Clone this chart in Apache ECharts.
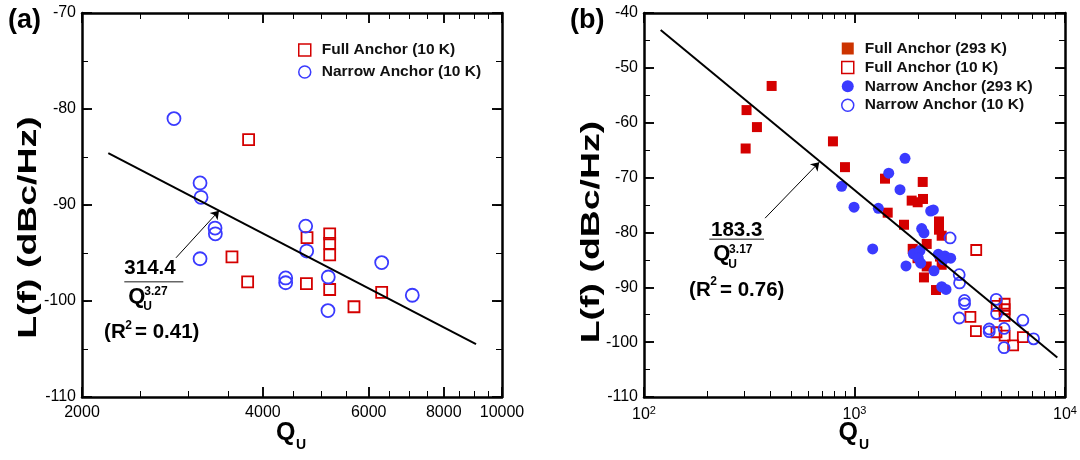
<!DOCTYPE html>
<html><head><meta charset="utf-8">
<script src="https://cdn.jsdelivr.net/npm/echarts@6/dist/echarts.min.js"></script>
<style>html,body{margin:0;padding:0;background:#fff}#c{width:1080px;height:460px}</style>
</head><body><div id="c"></div>
<script>
// ---------- data ----------
const Q_FULL_10K   = [3787, 3553, 3773, 4737, 4726, 5167, 5167, 5167, 5167, 5671, 6306];
const L_FULL_10K   = [-83.2, -95.4, -98.0, -93.4, -98.2, -93.0, -94.0, -95.2, -98.8, -100.6, -99.1];
const Q_NARROW_10K = [2845, 3144, 3156, 3330, 3334, 3144, 4365, 4365, 4713, 4731, 5139, 5133, 6306, 7091];
const L_NARROW_10K = [-81.0, -87.7, -89.2, -92.4, -93.0, -95.6, -97.6, -98.1, -92.2, -94.8, -97.5, -101.0, -96.0, -99.4];

const Q_FULL_293K  = [307, 404, 344, 304, 790, 901, 1396, 2109, 1869, 1996, 2115, 1438, 1719, 2520, 2520, 2595, 2203, 1890, 1992, 2203, 2138, 2438, 2595, 2548];
const L_FULL_293K  = [-57.7, -53.3, -60.8, -64.7, -63.4, -68.1, -70.2, -70.8, -74.2, -74.5, -73.9, -76.4, -78.6, -78.0, -79.5, -80.6, -82.1, -83.0, -84.7, -86.2, -88.2, -90.5, -85.9, -84.4];
const Q_NARROW_293K = [1738, 1454, 869, 1645, 995, 1298, 2301, 2369, 2085, 2138, 1220, 1903, 2047, 2010, 2063, 1757, 2386, 2595, 2721, 2500, 2690, 2864, 2642];
const L_NARROW_293K = [-66.5, -69.2, -71.6, -72.2, -75.4, -75.6, -76.1, -75.9, -79.3, -80.1, -83.0, -83.9, -83.3, -84.7, -85.6, -86.1, -87.0, -89.9, -90.4, -84.0, -84.3, -84.7, -85.0];

const FIT_A_Q = [2212, 9053];  const FIT_A_L = [-84.6, -104.5];
const FIT_B_Q = [120, 9192];   const FIT_B_L = [-43.1, -102.8];
const ARROW_A = [[2867, -95.5], [3381, -90.6]];
const ARROW_B = [[376, -77.4], [680, -67.2]];

const A_X_MAJOR = [2000, 4000, 6000, 8000, 10000];
const A_X_MINOR = [2500, 3000, 3500, 4500, 5000, 5500, 6500, 7000, 7500, 8500, 9000, 9500];
const B_X_MAJOR = [100, 1000, 10000];
const B_X_MINOR = [200, 300, 400, 500, 600, 700, 800, 900, 2000, 3000, 4000, 5000, 6000, 7000, 8000, 9000];
const A_Y_RANGE = [-110, -70];
const B_Y_RANGE = [-110, -40];

// ---------- styling ----------
const FONT = '"Liberation Sans", Arial, sans-serif';
const RED = '#d40000', BLUE = '#3a3aff', RED_LEG = '#cc3300';
const zip = (a, b) => a.map((v, i) => [v, b[i]]);

function xAxisLog(grid, pos, min, max, ticks, len, showLine, labelVals, fmt) {
  return {
    type: 'log', logBase: 10, gridIndex: grid, position: pos, min: min, max: max,
    axisLine: { show: showLine, onZero: false, lineStyle: { color: '#000', width: 2.5 } },
    axisTick: { show: true, inside: true, length: len, customValues: ticks,
      lineStyle: { color: '#000', width: len > 8 ? 1.5 : 1 } },
    minorTick: { show: false }, splitLine: { show: false },
    axisLabel: labelVals ? {
      show: true, customValues: labelVals, formatter: fmt, margin: 8,
      color: '#000', fontSize: 16, fontFamily: FONT,
      rich: { b: { fontSize: 16, fontFamily: FONT, color: '#000' },
              s: { fontSize: 11, fontFamily: FONT, color: '#000', verticalAlign: 'bottom', padding: [0, 0, 8, 0] } }
    } : { show: false }
  };
}
function yAxisLin(grid, pos, range, labels) {
  return {
    type: 'value', gridIndex: grid, position: pos, min: range[0], max: range[1], interval: 10,
    axisLine: { show: true, onZero: false, lineStyle: { color: '#000', width: 2.5 } },
    axisTick: { show: true, inside: true, length: 10, lineStyle: { color: '#000', width: 1.5 } },
    minorTick: { show: true, splitNumber: 2, length: 6, lineStyle: { color: '#000', width: 1 } },
    splitLine: { show: false },
    axisLabel: { show: labels, margin: 6, color: '#000', fontSize: 16, fontFamily: FONT }
  };
}
const fmtPlain = v => String(Math.round(v));
const fmtPow = v => '{b|10}{s|' + Math.round(Math.log10(v)) + '}';

const grids = [
  { left: 82, top: 13, width: 420, height: 384, outerBoundsMode: 'none' },
  { left: 644, top: 13, width: 421, height: 384, outerBoundsMode: 'none' }
];
const xAxes = [
  xAxisLog(0, 'bottom', 2000, 10000, A_X_MAJOR, 10, true, A_X_MAJOR, fmtPlain),
  xAxisLog(0, 'top', 2000, 10000, A_X_MAJOR, 10, true),
  xAxisLog(1, 'bottom', 100, 10000, B_X_MAJOR, 10, true, B_X_MAJOR, fmtPow),
  xAxisLog(1, 'top', 100, 10000, B_X_MAJOR, 10, true)
];
const yAxes = [
  yAxisLin(0, 'left', A_Y_RANGE, true),
  yAxisLin(0, 'right', A_Y_RANGE, false),
  yAxisLin(1, 'left', B_Y_RANGE, true),
  yAxisLin(1, 'right', B_Y_RANGE, false)
];

// Tick marks drawn as split lines of thin strip grids that share the panel axes' scales
function xStrip(left, width, top, height, min, max, vals, w) {
  const gi = grids.length;
  grids.push({ left: left, top: top, width: width, height: height, outerBoundsMode: 'none' });
  xAxes.push({ type: 'log', logBase: 10, gridIndex: gi, min: min, max: max,
    axisLine: { show: false }, axisTick: { show: false, customValues: vals },
    axisLabel: { show: false, customValues: vals },
    splitLine: { show: true, lineStyle: { color: '#000', width: w } } });
  yAxes.push({ type: 'value', gridIndex: gi, min: 0, max: 1, show: false, splitLine: { show: false } });
}
function yStrip(left, width, top, height, range, step, w) {
  const gi = grids.length;
  grids.push({ left: left, top: top, width: width, height: height, outerBoundsMode: 'none' });
  xAxes.push({ type: 'value', gridIndex: gi, min: 0, max: 1, show: false, splitLine: { show: false } });
  yAxes.push({ type: 'value', gridIndex: gi, min: range[0], max: range[1], interval: step,
    axisLine: { show: false }, axisTick: { show: false }, axisLabel: { show: false },
    splitLine: { show: true, lineStyle: { color: '#000', width: w } } });
}
// panel (a)
xStrip(82, 420, 387, 10, 2000, 10000, A_X_MAJOR, 1.5);
xStrip(82, 420, 391, 6, 2000, 10000, A_X_MINOR, 1);
xStrip(82, 420, 13, 10, 2000, 10000, A_X_MAJOR, 1.5);
xStrip(82, 420, 13, 6, 2000, 10000, A_X_MINOR, 1);
yStrip(82, 10, 13, 384, A_Y_RANGE, 10, 1.5);
yStrip(82, 6, 13, 384, A_Y_RANGE, 5, 1);
yStrip(492, 10, 13, 384, A_Y_RANGE, 10, 1.5);
yStrip(496, 6, 13, 384, A_Y_RANGE, 5, 1);
// panel (b)
xStrip(644, 421, 387, 10, 100, 10000, B_X_MAJOR, 1.5);
xStrip(644, 421, 391, 6, 100, 10000, B_X_MINOR, 1);
xStrip(644, 421, 13, 10, 100, 10000, B_X_MAJOR, 1.5);
xStrip(644, 421, 13, 6, 100, 10000, B_X_MINOR, 1);
yStrip(644, 10, 13, 384, B_Y_RANGE, 10, 1.5);
yStrip(644, 6, 13, 384, B_Y_RANGE, 5, 1);
yStrip(1055, 10, 13, 384, B_Y_RANGE, 10, 1.5);
yStrip(1059, 6, 13, 384, B_Y_RANGE, 5, 1);

function txt(x, y, text, size, extra, align) {
  const a = align || 'center';
  return Object.assign({
    type: 'text', x: x, y: y, silent: true,
    style: { text: text, font: 'bold ' + size + 'px ' + FONT, fill: '#000',
      align: a, verticalAlign: 'middle', textAlign: a, textVerticalAlign: 'middle' }
  }, extra || {});
}
function hline(x1, x2, y) {
  return { type: 'line', silent: true, shape: { x1: x1, y1: y, x2: x2, y2: y }, style: { stroke: '#666', lineWidth: 1.5 } };
}
function fitSeries(name, xi, yi, qs, ls, arrow) {
  return {
    name: name, type: 'line', xAxisIndex: xi, yAxisIndex: yi, data: zip(qs, ls),
    symbol: 'none', lineStyle: { color: '#000', width: 2 }, silent: true,
    markLine: {
      silent: true, symbol: ['none', 'arrow'], symbolSize: 8, animation: false,
      lineStyle: { color: '#000', width: 1, type: 'solid' }, label: { show: false },
      data: [[{ coord: arrow[0] }, { coord: arrow[1] }]]
    }
  };
}
function scat(name, xi, yi, qs, ls, symbol, size, color, hollow) {
  return {
    name: name, type: 'scatter', xAxisIndex: xi, yAxisIndex: yi, data: zip(qs, ls),
    symbol: symbol, symbolSize: size,
    itemStyle: hollow ? { color: 'rgba(255,255,255,0)', borderColor: color, borderWidth: 1.8, opacity: 1 }
                      : { color: color, borderWidth: 0, opacity: 1 }
  };
}

const legText = { color: '#111', fontSize: 15.5, fontWeight: 'bold', fontFamily: FONT, padding: [0, 0, 0, 6] };
const hollowLeg = c => ({ color: 'rgba(255,255,255,0)', borderColor: c, borderWidth: 1.5 });
const panelTitle = { color: '#000', fontSize: 27, fontWeight: 'bold', fontFamily: FONT };

const option = {
  animation: false,
  title: [
    { text: '(a)', left: 8, top: 7, padding: 0, textStyle: panelTitle },
    { text: '(b)', left: 570, top: 7, padding: 0, textStyle: panelTitle }
  ],
  grid: grids,
  xAxis: xAxes,
  yAxis: yAxes,
  legend: [
    { orient: 'vertical', left: 293, top: 37, itemWidth: 12, itemHeight: 12, itemGap: 6,
      selectedMode: false, textStyle: legText,
      data: [
        { name: 'Full Anchor (10 K)', icon: 'rect', itemStyle: hollowLeg(RED) },
        { name: 'Narrow Anchor (10 K)', icon: 'circle', itemStyle: hollowLeg(BLUE) }
      ] },
    { orient: 'vertical', left: 836, top: 35.5, itemWidth: 12, itemHeight: 12, itemGap: 2.9,
      selectedMode: false, textStyle: legText,
      data: [
        { name: 'Full Anchor (293 K)', icon: 'rect', itemStyle: { color: RED_LEG, borderWidth: 0 } },
        { name: 'Full Anchor (10 K)', icon: 'rect', itemStyle: hollowLeg(RED) },
        { name: 'Narrow Anchor (293 K)', icon: 'circle', itemStyle: { color: BLUE, borderWidth: 0 } },
        { name: 'Narrow Anchor (10 K)', icon: 'circle', itemStyle: hollowLeg(BLUE) }
      ] }
  ],
  series: [
    fitSeries('fitA', 0, 0, FIT_A_Q, FIT_A_L, ARROW_A),
    scat('Full Anchor (10 K)', 0, 0, Q_FULL_10K, L_FULL_10K, 'rect', 11, RED, true),
    scat('Narrow Anchor (10 K)', 0, 0, Q_NARROW_10K, L_NARROW_10K, 'circle', 13, BLUE, true),
    fitSeries('fitB', 2, 2, FIT_B_Q, FIT_B_L, ARROW_B),
    scat('Full Anchor (293 K)', 2, 2, Q_FULL_293K, L_FULL_293K, 'rect', 10, RED, false),
    scat('Full Anchor (10 K)', 2, 2, Q_FULL_10K, L_FULL_10K, 'rect', 10, RED, true),
    scat('Narrow Anchor (293 K)', 2, 2, Q_NARROW_293K, L_NARROW_293K, 'circle', 11, BLUE, false),
    scat('Narrow Anchor (10 K)', 2, 2, Q_NARROW_10K, L_NARROW_10K, 'circle', 11, BLUE, true)
  ],
  graphic: { elements: [
    txt(29, 227.5, 'L(f) (dBc/Hz)', 26, { rotation: Math.PI / 2, scaleX: 1.44 }),
    txt(592, 232, 'L(f) (dBc/Hz)', 26, { rotation: Math.PI / 2, scaleX: 1.44 }),
    txt(285.8, 433, 'Q', 25), txt(301, 445, 'U', 14),
    txt(848.2, 433, 'Q', 25), txt(864, 445, 'U', 14),
    txt(150, 268.3, '314.4', 20.5),
    hline(124.3, 183.3, 281.7),
    txt(136.7, 297, 'Q', 22), txt(156, 291.7, '3.27', 12), txt(147.5, 306.7, 'U', 12),
    txt(125.7, 332, '(R', 20.5, null, 'right'), txt(128.6, 325.3, '2', 12),
    txt(135, 332, '= 0.41)', 20.5, null, 'left'),
    txt(736.7, 230.5, '183.3', 20.5),
    hline(709.3, 764, 239.3),
    txt(721.7, 254, 'Q', 22), txt(740.8, 250, '3.17', 12), txt(732.5, 265, 'U', 12),
    txt(710.7, 290, '(R', 20.5, null, 'right'), txt(713.6, 281.5, '2', 12),
    txt(720, 290, '= 0.76)', 20.5, null, 'left')
  ] }
};

const chart = echarts.init(document.getElementById('c'));
chart.setOption(option);
</script></body></html>
